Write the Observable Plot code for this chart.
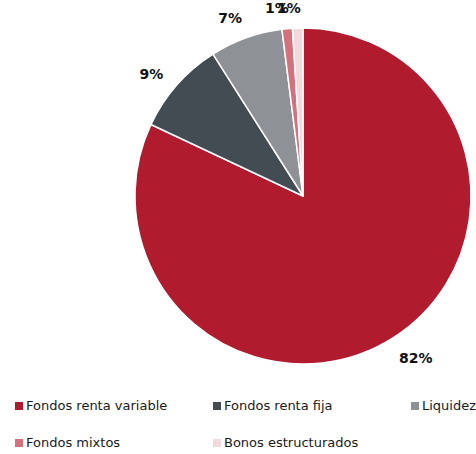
<!DOCTYPE html>
<html><head><meta charset="utf-8">
<script src="https://cdn.jsdelivr.net/npm/d3@7"></script>
<script src="https://cdn.jsdelivr.net/npm/@observablehq/plot@0.6"></script>
<style>
body{margin:0;background:#fff;font-family:"DejaVu Sans",Verdana,sans-serif;}
#legend{position:absolute;left:0;top:0;width:476px;}
.item{position:absolute;font-size:13px;color:#1a1a1a;white-space:nowrap;line-height:14px;}
.sw{display:inline-block;width:8px;height:8px;margin-right:3px;vertical-align:0px;}
</style></head>
<body><div id="chart"></div><div id="legend"></div>
<script>
const categories = ["Fondos renta variable","Fondos renta fija","Liquidez","Fondos mixtos","Bonos estructurados"];
const values = [82, 9, 7, 1, 1];
const labels = ["82%","9%","7%","1%","1%"];
const colors = ["#B01B2E","#434B53","#8E9196","#D4717D","#F2D9DB"];

const data = categories.map((c,i)=>({category:c,value:values[i],label:labels[i]}));
const color = Plot.scale({color:{domain:categories, range:colors}});

const W=476, H=390, cx=303, cy=196, R=168;
const pie = d3.pie().value(d=>d.value).sort(null);
const arcs = pie(data);
const arc = d3.arc().innerRadius(0).outerRadius(R);

function labelPos(d){
  const a = (d.startAngle + d.endAngle)/2 - 2.5*Math.PI/180;
  const ux = Math.sin(a), uy = -Math.cos(a);
  const w = 12*d.data.label.length, h = 14;
  const rho = R + 13 + Math.abs(ux)*w/2 + Math.abs(uy)*h/2;
  return [ux*rho, uy*rho];
}

function pieMark(index, scales, values_, dims){
  const g = d3.create("svg:g").attr("transform",`translate(${cx},${cy})`);
  g.selectAll("path").data(arcs).join("path")
    .attr("d",arc).attr("fill",d=>color.apply(d.data.category))
    .attr("stroke","#fff").attr("stroke-width",1.5).attr("stroke-linejoin","round");
  g.selectAll("text").data(arcs).join("text")
    .attr("transform",d=>`translate(${labelPos(d)})`)
    .attr("text-anchor","middle").attr("dy","0.36em")
    .attr("font-weight","bold").attr("font-size",14).attr("fill","#111")
    .attr("font-family","DejaVu Sans, Verdana, sans-serif")
    .text(d=>d.data.label);
  return g.node();
}

const plot = Plot.plot({width:W,height:H,margin:0,x:{axis:null},y:{axis:null},marks:[pieMark]});
document.getElementById("chart").appendChild(plot);

const leg = document.getElementById("legend");
const pos=[[15,399],[213,399],[411,399],[15,436],[213,436]];
categories.forEach((c,i)=>{
  const d=document.createElement("div");d.className="item";
  d.style.left=pos[i][0]+"px";d.style.top=pos[i][1]+"px";
  d.innerHTML=`<span class="sw" style="background:${color.apply(c)}"></span>${c}`;
  leg.appendChild(d);
});
</script></body></html>
